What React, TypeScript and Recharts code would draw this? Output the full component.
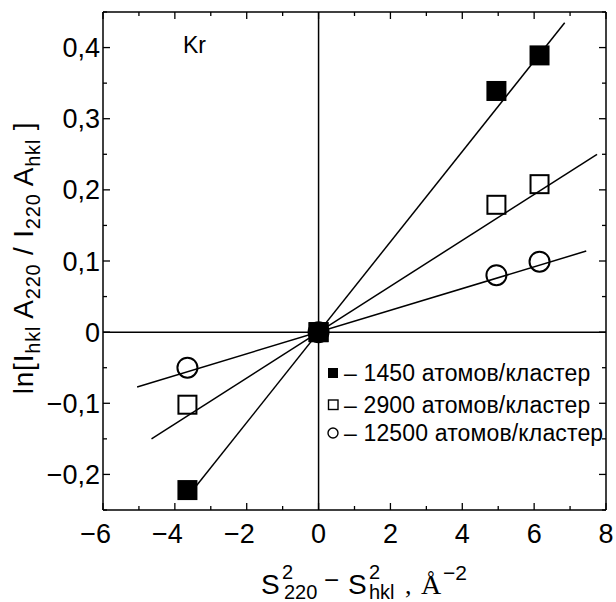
import { ComposedChart, Scatter, XAxis, YAxis, ReferenceLine } from "recharts";

// S^2_220 - S^2_hkl for the measured reflections
const sValues = [-3.65, 0, 4.95, 6.15];
// ln[I_hkl A_220 / I_220 A_hkl] for each cluster size
const ln1450 = [-0.222, 0, 0.339, 0.389];
const ln2900 = [-0.102, 0, 0.179, 0.208];
const ln12500 = [-0.05, 0, 0.08, 0.099];

// ends of the fitted straight lines
const fit1450X = [-3.7, 6.85];
const fit1450Y = [-0.235, 0.435];
const fit2900X = [-4.65, 7.75];
const fit2900Y = [-0.15, 0.25];
const fit12500X = [-5.05, 7.45];
const fit12500Y = [-0.077, 0.114];

const xTicks = [-6, -5, -4, -3, -2, -1, 0, 1, 2, 3, 4, 5, 6, 7, 8];
const yTicks = [-0.25, -0.2, -0.15, -0.1, -0.05, 0, 0.05, 0.1, 0.15, 0.2, 0.25, 0.3, 0.35, 0.4, 0.45];

const legendLabels = [
  "– 1450 атомов/кластер",
  "– 2900 атомов/кластер",
  "– 12500 атомов/кластер",
];

const FONT = "'Liberation Sans', Arial, Helvetica, sans-serif";
const SERIF = "'Liberation Serif', 'Times New Roman', serif";

const toPoints = (xs: number[], ys: number[]) => xs.map((x, i) => ({ x, y: ys[i] }));

const pts1450 = toPoints(sValues, ln1450);
const pts2900 = toPoints(sValues, ln2900);
const pts12500 = toPoints(sValues, ln12500);
const fit1450 = toPoints(fit1450X, fit1450Y);
const fit2900 = toPoints(fit2900X, fit2900Y);
const fit12500 = toPoints(fit12500X, fit12500Y);

const fmtX = (v: number) => (v < 0 ? "\u2212" + Math.abs(v) : String(v));
const fmtY = (v: number) => {
  if (Math.abs(v) < 1e-9) return "0";
  const s = Math.abs(v).toFixed(1).replace(".", ",");
  return v < 0 ? "\u2212" + s : s;
};

const isMajorX = (v: number) => Math.abs(v % 2) < 1e-9;
const isMajorY = (v: number) => Math.abs(Math.round(v * 10) - v * 10) < 1e-6;

const makeXTick = (side: "bottom" | "top") => (props: any) => {
  const { x, y, payload } = props;
  const v = payload.value as number;
  const major = isMajorX(v);
  const len = major ? 7 : 4;
  const dir = side === "bottom" ? -1 : 1;
  return (
    <g>
      <line x1={x} y1={y} x2={x} y2={y + dir * len} stroke="#000" strokeWidth={1.3} />
      {side === "bottom" && major && (
        <text
          x={v < 0 ? x + 8 : x}
          y={y + 33}
          textAnchor={v < 0 ? "end" : "middle"}
          fontSize={27}
          fontFamily={FONT}
          fill="#000"
        >
          {fmtX(v)}
        </text>
      )}
    </g>
  );
};

const makeYTick = (side: "left" | "right") => (props: any) => {
  const { x, y, payload } = props;
  const v = payload.value as number;
  const major = isMajorY(v);
  const len = major ? 7 : 4;
  const dir = side === "left" ? 1 : -1;
  return (
    <g>
      <line x1={x} y1={y} x2={x + dir * len} y2={y} stroke="#000" strokeWidth={1.3} />
      {side === "left" && major && (
        <text x={x - 3} y={y + 9.5} textAnchor="end" fontSize={27} fontFamily={FONT} fill="#000">
          {fmtY(v)}
        </text>
      )}
    </g>
  );
};

const FilledSquare = (p: any) => (
  <rect x={p.cx - 10} y={p.cy - 10} width={20} height={20} fill="#000" />
);
const OpenSquare = (p: any) => (
  <rect x={p.cx - 9} y={p.cy - 9} width={18} height={18} fill="none" stroke="#000" strokeWidth={2} />
);
const OpenCircle = (p: any) => (
  <circle cx={p.cx} cy={p.cy} r={10} fill="none" stroke="#000" strokeWidth={2} />
);
const NoDot = () => <g />;

const lineStyle = { stroke: "#000", strokeWidth: 1.5 };

function Legend() {
  const rows = [373, 405, 433];
  return (
    <g>
      <rect x={328} y={rows[0] - 5} width={10} height={10} fill="#000" />
      <rect x={328.5} y={rows[1] - 5} width={9.5} height={9.5} fill="#fff" stroke="#000" strokeWidth={1.4} />
      <circle cx={333} cy={rows[2]} r={5} fill="#fff" stroke="#000" strokeWidth={1.4} />
      {legendLabels.map((t, i) => (
        <text key={t} x={344} y={rows[i] + 8} fontSize={23} letterSpacing={0.15} fontFamily={FONT} fill="#000">
          {t}
        </text>
      ))}
    </g>
  );
}

function AxisTitles() {
  return (
    <g fill="#000">
      <text x={183} y={53} fontSize={23} fontFamily={FONT}>
        Kr
      </text>
      <text
        transform="translate(33,258) rotate(-90)"
        textAnchor="middle"
        fontSize={28}
        letterSpacing={0.8}
        fontFamily={FONT}
      >
        <tspan>ln[I</tspan>
        <tspan fontSize={20} dy={7}>hkl</tspan>
        <tspan dy={-7}> A</tspan>
        <tspan fontSize={20} dy={7}>220</tspan>
        <tspan dy={-7}> / I</tspan>
        <tspan fontSize={20} dy={7}>220</tspan>
        <tspan dy={-7}> A</tspan>
        <tspan fontSize={20} dy={7}>hkl</tspan>
        <tspan dy={-7}> ]</tspan>
      </text>
      <g fontFamily={FONT}>
        <text x={261} y={594} fontSize={28}>S</text>
        <text x={282} y={579} fontSize={20}>2</text>
        <text x={284} y={599} fontSize={20}>220</text>
        <text x={324} y={589} fontSize={26}>{"\u2212"}</text>
        <text x={348} y={594} fontSize={28}>S</text>
        <text x={369} y={579} fontSize={20}>2</text>
        <text x={369} y={599} fontSize={20}>hkl</text>
        <text x={405} y={594} fontSize={26} fontFamily={SERIF}>,</text>
        <text x={421} y={594} fontSize={28} fontFamily={SERIF}>Å</text>
        <text x={443} y={580} fontSize={21}>{"\u22122"}</text>
      </g>
    </g>
  );
}

export default function App() {
  return (
    <div style={{ position: "absolute", left: 0, top: 0, width: 616, height: 602, background: "#fff" }}>
      <ComposedChart width={616} height={602} margin={{ top: 0, right: 0, bottom: 0, left: 0 }}>
        <XAxis
          type="number"
          dataKey="x"
          domain={[-6, 8]}
          ticks={xTicks}
          interval={0}
          tickSize={0}
          tickMargin={0}
          tickLine={false}
          tick={makeXTick("bottom")}
          axisLine={{ stroke: "#000", strokeWidth: 1.5 }}
          height={92}
          allowDataOverflow
        />
        <XAxis
          xAxisId="top"
          orientation="top"
          type="number"
          dataKey="x"
          domain={[-6, 8]}
          ticks={xTicks}
          interval={0}
          tickSize={0}
          tickMargin={0}
          tickLine={false}
          tick={makeXTick("top")}
          axisLine={{ stroke: "#000", strokeWidth: 1.5 }}
          height={12}
          allowDataOverflow
        />
        <YAxis
          type="number"
          dataKey="y"
          domain={[-0.25, 0.45]}
          ticks={yTicks}
          interval={0}
          tickSize={0}
          tickMargin={0}
          tickLine={false}
          tick={makeYTick("left")}
          axisLine={{ stroke: "#000", strokeWidth: 1.5 }}
          width={103}
          allowDataOverflow
        />
        <YAxis
          yAxisId="right"
          orientation="right"
          type="number"
          dataKey="y"
          domain={[-0.25, 0.45]}
          ticks={yTicks}
          interval={0}
          tickSize={0}
          tickMargin={0}
          tickLine={false}
          tick={makeYTick("right")}
          axisLine={{ stroke: "#000", strokeWidth: 1.5 }}
          width={10}
          allowDataOverflow
        />
        <ReferenceLine x={0} stroke="#000" strokeWidth={1.5} />
        <ReferenceLine y={0} stroke="#000" strokeWidth={1.5} />

        <Scatter data={fit1450} line={lineStyle} shape={NoDot} isAnimationActive={false} />
        <Scatter data={fit2900} line={lineStyle} shape={NoDot} isAnimationActive={false} />
        <Scatter data={fit12500} line={lineStyle} shape={NoDot} isAnimationActive={false} />

        <Scatter data={pts12500} shape={OpenCircle} isAnimationActive={false} />
        <Scatter data={pts2900} shape={OpenSquare} isAnimationActive={false} />
        <Scatter data={pts1450} shape={FilledSquare} isAnimationActive={false} />

        <Legend />
        <AxisTitles />
      </ComposedChart>
    </div>
  );
}
